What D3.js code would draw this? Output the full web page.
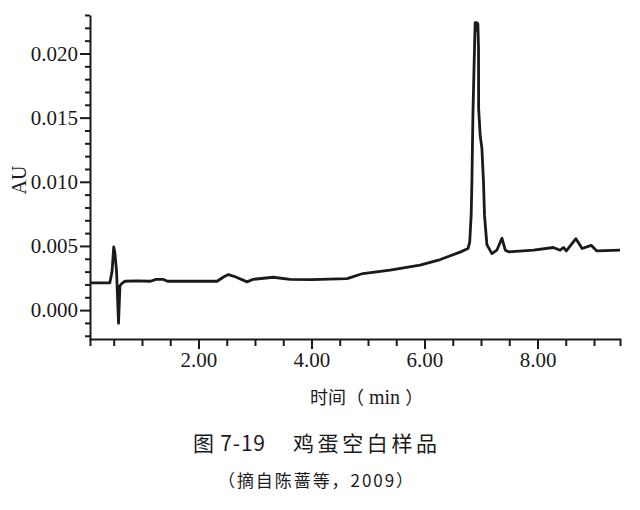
<!DOCTYPE html>
<html><head><meta charset="utf-8">
<script src="https://cdn.jsdelivr.net/npm/d3@7"></script>
<style>body{margin:0;background:#fff}</style>
</head><body><svg id="c" width="640" height="510"></svg>
<script>
// retention time (min)
const times = [0.08,0.43,0.47,0.50,0.52,0.55,0.585,0.61,0.65,0.70,0.90,1.15,1.25,1.37,1.45,2.33,2.45,2.53,2.65,2.86,2.97,3.32,3.62,4.0,4.63,4.91,5.39,5.92,6.28,6.63,6.77,6.80,6.826,6.839,6.857,6.885,6.897,6.91,6.925,6.945,6.956,6.958,6.986,7.016,7.044,7.062,7.104,7.193,7.28,7.37,7.43,7.49,7.93,8.28,8.40,8.46,8.51,8.68,8.79,8.95,9.05,9.46];
// absorbance (AU)
const absorbance = [0.00212,0.00212,0.0030,0.00492,0.0045,0.0030,-0.00103,0.0019,0.0021,0.00225,0.00228,0.00225,0.0024,0.0024,0.00225,0.00225,0.0026,0.00277,0.0026,0.0022,0.0024,0.00256,0.0024,0.00238,0.00246,0.00285,0.00311,0.0035,0.00394,0.00452,0.0048,0.0053,0.0074,0.0100,0.0152,0.0204,0.0224,0.0218,0.0224,0.0223,0.0204,0.0157,0.0136,0.0126,0.0100,0.0074,0.0051,0.0044,0.00467,0.0056,0.00467,0.00454,0.00467,0.00488,0.00467,0.00488,0.00461,0.00557,0.0048,0.00505,0.00461,0.00467];
const xMajorTicks = [2,4,6,8];
const xMinorTicks = [0.5,1,1.5,2.5,3,3.5,4.5,5,5.5,6.5,7,7.5,8.5,9];
const yMajorTicks = [0,0.005,0.010,0.015,0.020];
const yMinorTicks = [-0.002,-0.001,0.001,0.002,0.003,0.004,0.006,0.007,0.008,0.009,0.011,0.012,0.013,0.014,0.016,0.017,0.018,0.019,0.021,0.022,0.023];
const yTitle = "AU";
const xTitleParts = ["时间（", " min ", "）"];
const captionNo = "图 7-19";
const captionText = "鸡蛋空白样品";
const sourceText = "（摘自陈蔷等，2009）";

const svg = d3.select("#c");
const x = d3.scaleLinear().domain([0.08, 9.46]).range([90, 620]);
const y = d3.scaleLinear().domain([-0.00233, 0.0230]).range([340, 15]);
const serif = "'Liberation Serif','Times New Roman',serif";
const cjk = "'Noto Sans CJK SC','Noto Sans',sans-serif";
const ink = "#1a1a1a";

function style(g){
  g.selectAll("path,line").attr("stroke", ink).attr("stroke-width", 2);
  g.selectAll("text").attr("font-family", serif).attr("font-size", 21).attr("fill", ink);
}

// y axis
svg.append("g").attr("transform","translate(90,0)")
  .call(d3.axisLeft(y).tickValues(yMinorTicks).tickSize(5).tickSizeOuter(0).tickFormat(""))
  .call(g=>g.select(".domain").remove()).call(style);
svg.append("g").attr("transform","translate(90,0)")
  .call(d3.axisLeft(y).tickValues(yMajorTicks).tickSize(10).tickSizeOuter(0).tickPadding(2).tickFormat(d3.format(".3f")))
  .call(style);

// x axis
const xAxisY = 339;
svg.append("g").attr("transform",`translate(0,${xAxisY})`)
  .call(d3.axisBottom(x).tickValues(xMinorTicks).tickSize(7).tickSizeOuter(0).tickFormat(""))
  .call(g=>g.select(".domain").remove()).call(style);
svg.append("g").attr("transform",`translate(0,${xAxisY})`)
  .call(d3.axisBottom(x).tickValues(xMajorTicks).tickSize(10).tickSizeOuter(7).tickPadding(3).tickFormat(d3.format(".2f")))
  .call(style);

// trace
const line = d3.line().x((d,i)=>x(times[i])).y(d=>y(d));
svg.append("path").datum(absorbance).attr("d", line)
  .attr("fill","none").attr("stroke", ink).attr("stroke-width", 2.8).attr("stroke-linejoin","round");

// titles
svg.append("text").attr("transform","translate(19,180) rotate(-90)")
  .attr("text-anchor","middle").attr("dominant-baseline","central")
  .attr("font-family", serif).attr("font-size", 20).attr("fill", ink).text(yTitle);
const xt = svg.append("text").attr("x",310).attr("y",404).attr("fill", ink);
xt.append("tspan").attr("font-family", cjk).attr("font-size", 18).text(xTitleParts[0]);
xt.append("tspan").attr("font-family", serif).attr("font-size", 20).text(xTitleParts[1]);
xt.append("tspan").attr("font-family", cjk).attr("font-size", 18).text(xTitleParts[2]);

svg.append("text").attr("x",193).attr("y",451).attr("textLength",72).attr("lengthAdjust","spacing")
  .attr("font-family", cjk).attr("font-size", 21).attr("fill", ink).text(captionNo);
svg.append("text").attr("x",293).attr("y",451).attr("textLength",144).attr("lengthAdjust","spacing")
  .attr("font-family", cjk).attr("font-size", 21).attr("fill", ink).text(captionText);
svg.append("text").attr("x",218).attr("y",487).attr("textLength",195).attr("lengthAdjust","spacing")
  .attr("font-family", cjk).attr("font-size", 17).attr("fill", ink).text(sourceText);
</script></body></html>
